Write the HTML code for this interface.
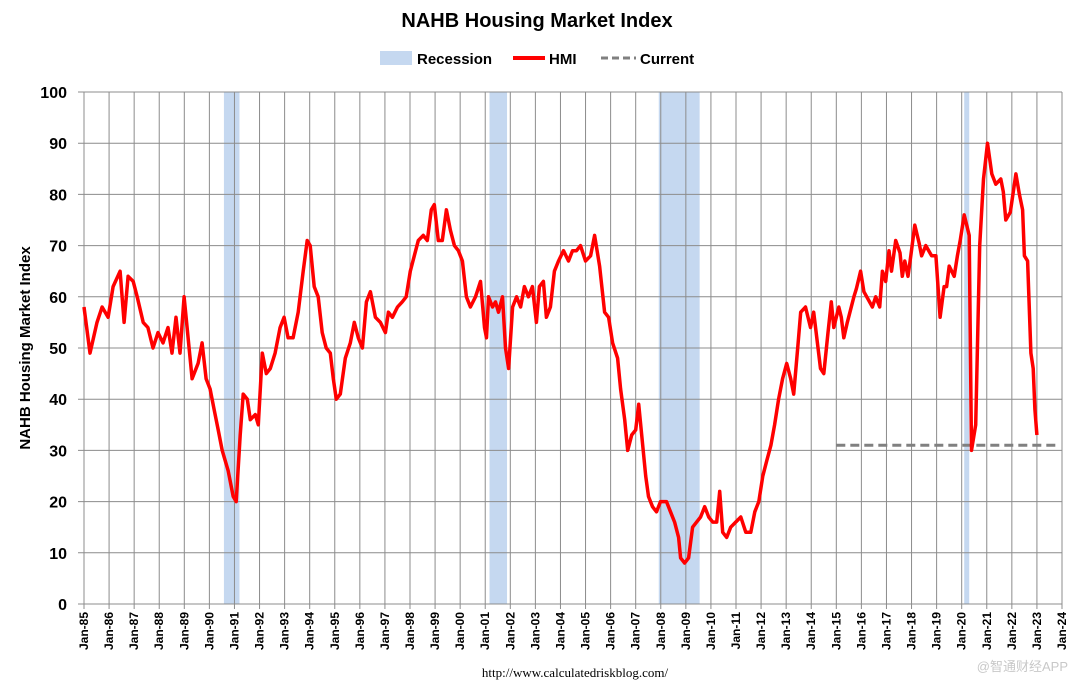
<!DOCTYPE html>
<html><head><meta charset="utf-8"><style>
body{margin:0;background:#fff;}
svg{display:block;font-family:"Liberation Sans",Arial,sans-serif;}
</style></head><body>
<svg id="chart" width="1074" height="687"></svg>
<script>
const yearOffsets = [0,.24,.52,.72,.96,1.16,1.44,1.6,1.76,1.96,2.12,2.36,2.55,2.75,2.95,3.15,3.35,3.51,3.67,3.83,3.99,4.15,4.31,4.55,4.71,4.87,5.03,5.19,5.35,5.51,5.75,5.95,6.07,6.23,6.35,6.51,6.63,6.83,6.95,7.11,7.27,7.43,7.62,7.82,7.98,8.14,8.34,8.54,8.74,8.9,9.02,9.18,9.34,9.5,9.66,9.82,9.94,10.06,10.22,10.42,10.62,10.78,10.94,11.1,11.26,11.42,11.62,11.82,12.02,12.14,12.3,12.5,12.69,12.85,13.01,13.17,13.33,13.53,13.69,13.85,13.97,14.13,14.29,14.45,14.61,14.77,14.93,15.09,15.25,15.41,15.61,15.81,15.97,16.05,16.13,16.29,16.41,16.53,16.69,16.81,16.93,17.09,17.25,17.41,17.56,17.72,17.88,18.04,18.16,18.32,18.44,18.6,18.76,18.92,19.12,19.32,19.48,19.64,19.8,20.0,20.2,20.36,20.56,20.76,20.92,21.08,21.28,21.4,21.56,21.68,21.84,22.0,22.12,22.24,22.4,22.51,22.67,22.83,22.99,23.23,23.39,23.55,23.71,23.79,23.95,24.11,24.27,24.43,24.59,24.75,24.91,25.07,25.23,25.35,25.47,25.63,25.79,25.99,26.19,26.39,26.59,26.75,26.91,27.07,27.23,27.39,27.54,27.7,27.86,28.02,28.18,28.3,28.46,28.58,28.77,28.97,29.1,29.37,29.5,29.67,29.8,29.9,30.1,30.2,30.3,30.44,30.7,30.8,30.97,31.1,31.44,31.57,31.73,31.84,31.97,32.1,32.2,32.37,32.54,32.63,32.73,32.86,32.97,33.13,33.3,33.4,33.57,33.8,33.97,34.14,34.3,34.4,34.5,34.7,34.83,34.94,35.1,35.2,35.3,35.39,35.56,35.72,35.87,36.03,36.2,36.36,36.56,36.66,36.76,36.94,37.16,37.3,37.43,37.5,37.63,37.76,37.85,37.92,38.0];
const hmiValues = [58,49,55,58,56,62,65,55,64,63,60,55,54,50,53,51,54,49,56,49,60,52,44,47,51,44,42,38,34,30,26,21,20,33,41,40,36,37,35,49,45,46,49,54,56,52,52,57,65,71,70,62,60,53,50,49,44,40,41,48,51,55,52,50,59,61,56,55,53,57,56,58,59,60,65,68,71,72,71,77,78,71,71,77,73,70,69,67,60,58,60,63,54,52,60,58,59,57,60,50,46,58,60,58,62,60,62,55,62,63,56,58,65,67,69,67,69,69,70,67,68,72,66,57,56,51,48,42,36,30,33,34,39,33,25,21,19,18,20,20,18,16,13,9,8,9,15,16,17,19,17,16,16,22,14,13,15,16,17,14,14,18,20,25,28,31,35,40,44,47,44,41,50,57,58,54,57,46,45,53,59,54,58,56,52,55,60,61.6,65,61,58,60,58,65,63,69,65,71,68.6,64,67,64,68,74,70.5,68,70,68,68,56,62,62,66,64,68,71,76,74,72,30,35,70,83,90,84,82,83,80.5,75,76.5,84,80,77,68,67,49,46,38,33,31];
const yTicks = [0,10,20,30,40,50,60,70,80,90,100];
const xTickYears = [1985,1986,1987,1988,1989,1990,1991,1992,1993,1994,1995,1996,1997,1998,1999,2000,2001,2002,2003,2004,2005,2006,2007,2008,2009,2010,2011,2012,2013,2014,2015,2016,2017,2018,2019,2020,2021,2022,2023,2024];
const recessionStarts = [1990.58,2001.17,2007.92,2020.1];
const recessionEnds = [1991.2,2001.87,2009.55,2020.3];
const currentValue = [31];
const currentStartYear = [2015];

const X0=84, X1=1062, Y0=604, Y1=92;
const xs = yr => X0 + (yr-1985)/(2024-1985)*(X1-X0);
const ys = v => Y0 - v/100*(Y0-Y1);
const NS="http://www.w3.org/2000/svg";
const svg=document.getElementById('chart');
function mk(tag,attrs,parent){const e=document.createElementNS(NS,tag);for(const k in attrs)e.setAttribute(k,attrs[k]);(parent||svg).appendChild(e);return e;}

recessionStarts.forEach((s,i)=>{
  const r=mk('rect',{x:xs(s),y:Y1,width:xs(recessionEnds[i])-xs(s),height:Y0-Y1,fill:'#c5d8f0'});
  
  
});
yTicks.forEach(v=>{
  const l=mk('line',{x1:X0-6,x2:X1,y1:ys(v),y2:ys(v),stroke:'#8c8c8c','stroke-width':1});
  
  
  const t=mk('text',{x:67,y:ys(v)+6,'text-anchor':'end','font-size':16,'font-weight':'bold',fill:'#000'});
  t.textContent=v;
  
  
});
xTickYears.forEach(yr=>{
  const x=xs(yr);
  const l=mk('line',{x1:x,x2:x,y1:Y1,y2:Y0+5,stroke:'#8c8c8c','stroke-width':1});
  
  
  const t=mk('text',{transform:`translate(${x+4},${Y0+8}) rotate(-90)`,'text-anchor':'end','font-size':12,'font-weight':'bold',fill:'#000'});
  t.textContent='Jan-'+String(yr).slice(2);
  
  
});
const cl=mk('line',{x1:xs(currentStartYear[0]),x2:1058,y1:ys(currentValue[0]),y2:ys(currentValue[0]),stroke:'#808080','stroke-width':3,'stroke-dasharray':'9,5'});


const pts=yearOffsets.map((o,i)=>xs(1985+o).toFixed(1)+','+ys(hmiValues[i]).toFixed(1)).join(' ');
const hl=mk('polyline',{points:pts,fill:'none',stroke:'#ff0000','stroke-width':3.5,'stroke-linejoin':'round'});


</script>
<svg style="position:absolute;left:0;top:0" width="1074" height="687">
<text x="537" y="27" text-anchor="middle" font-size="20" font-weight="bold">NAHB Housing Market Index</text>
<g>
<rect x="380" y="51" width="32" height="14" fill="#c5d8f0"/>
<text x="417" y="64" font-size="15" font-weight="bold">Recession</text>
<line x1="513" x2="545" y1="58" y2="58" stroke="#ff0000" stroke-width="4"/>
<text x="549" y="64" font-size="15" font-weight="bold">HMI</text>
<line x1="601" x2="636" y1="58" y2="58" stroke="#808080" stroke-width="3" stroke-dasharray="7,4"/>
<text x="640" y="64" font-size="15" font-weight="bold">Current</text>
</g>
<text transform="translate(30,348) rotate(-90)" text-anchor="middle" font-size="15" font-weight="bold">NAHB Housing Market Index</text>
<text x="575" y="677" text-anchor="middle" font-size="13" font-family="Liberation Serif, serif">http://www.calculatedriskblog.com/</text>
<text x="1068" y="671" text-anchor="end" font-size="13" fill="#c8c8c8" font-family="Liberation Sans, Noto Sans CJK SC, sans-serif">@智通财经APP</text>
</svg>
</body></html>
